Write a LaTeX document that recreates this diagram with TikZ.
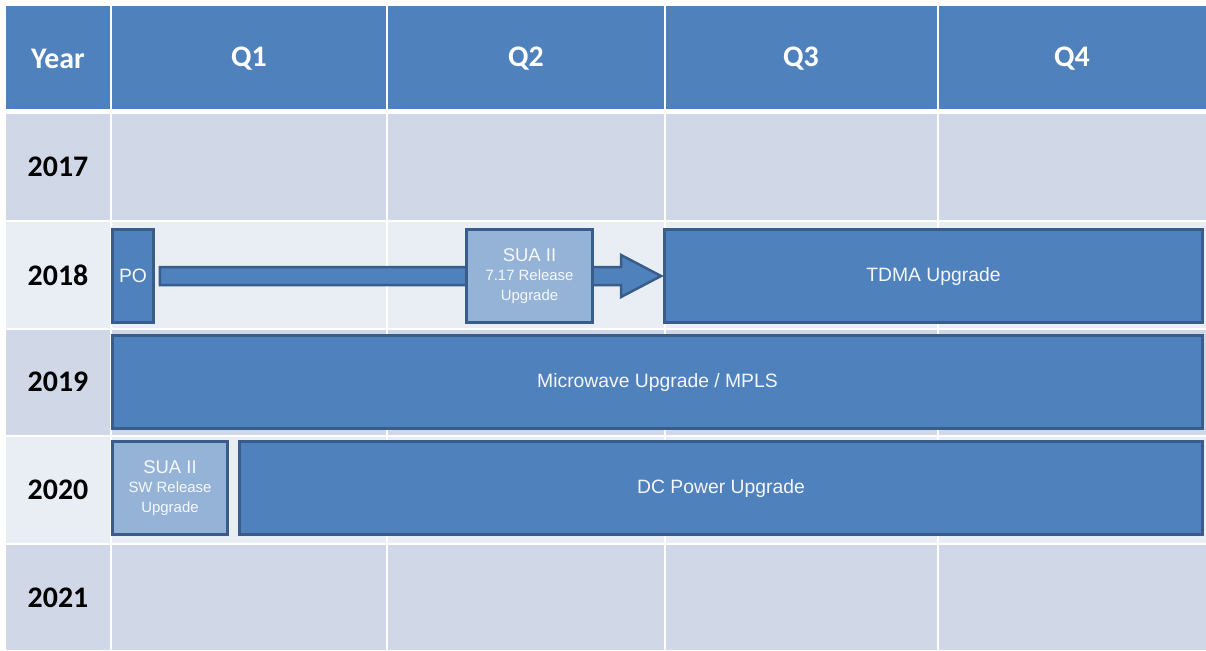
\documentclass[tikz,border=0pt]{standalone}
\usepackage{fontspec}
\setmainfont{Liberation Sans}
\newfontfamily\headfont{Carlito}
\usepackage{tikz}
\usetikzlibrary{calc}
\definecolor{hdrblue}{HTML}{4F81BD}
\definecolor{barline}{HTML}{385D8A}
\definecolor{sualight}{HTML}{95B3D7}
\definecolor{rowdark}{HTML}{D0D8E8}
\definecolor{rowlight}{HTML}{E9EDF4}

\begin{document}
\begin{tikzpicture}[
    x=0.02cm, y=-0.02cm,
    hdr/.style={font=\headfont\bfseries\fontsize{17}{20}\selectfont, text=white},
    yr/.style={font=\headfont\bfseries\fontsize{17}{20}\selectfont, text=black},
    bar/.style={draw=barline, line width=0.06cm, fill=hdrblue, text=white!94!hdrblue, align=center, inner sep=0pt, font=\fontsize{11}{12}\selectfont},
    subbar/.style={bar, fill=sualight, text=white!92!sualight, font=\fontsize{8.5}{11.3}\selectfont},
    fat/.style={draw=barline, line width=0.05cm, fill=hdrblue, line join=miter}
]
    \useasboundingbox[fill=white] (0,0) rectangle (1206,650);

    % grid cells
    \foreach \xa/\xb in {6/110, 112/386, 388/664, 666/937, 939/1206}{
        \fill[hdrblue] (\xa,6) rectangle (\xb,109);
        \foreach \ya/\yb/\c in {114/220/rowdark, 222/328/rowlight, 330/435/rowdark, 437/543/rowlight, 545/650/rowdark}
            \fill[\c] (\xa,\ya) rectangle (\xb,\yb);
    }

    % header and year labels
    \node[hdr] (hyear) at (58,59) {Year};
    \foreach \q/\x in {1/249, 2/526, 3/801, 4/1072}
        \node[hdr] (hq\q) at (\x,59) {Q\q};
    \foreach \yy/\y in {2017/167, 2018/275, 2019/382, 2020/490, 2021/598}
        \node[yr] (y\yy) at (58,\y) {\yy};

    % 2018
    \node[bar, minimum width=0.82cm, minimum height=1.86cm] (po) at (133,276) {PO};
    \node[bar, minimum width=10.76cm, minimum height=1.86cm] (tdma) at (933.5,276) {TDMA Upgrade};
    \draw[fat] ($(po.east)+(5,-9)$) -- ($(tdma.west)+(-42,-9)$) -- ($(tdma.west)+(-42,-21)$)
        -- ($(tdma.west)+(-2,0)$) -- ($(tdma.west)+(-42,21)$) -- ($(tdma.west)+(-42,9)$)
        -- ($(po.east)+(5,9)$) -- cycle;
    \node[subbar, minimum width=2.52cm, minimum height=1.86cm] (sua1) at (529.5,276)
        {{\fontsize{10.5}{11.3}\selectfont SUA II}\\7.17 Release\\Upgrade};

    % 2019
    \node[bar, minimum width=21.8cm, minimum height=1.86cm] (mw) at (657.5,382) {Microwave Upgrade / MPLS};

    % 2020
    \node[subbar, minimum width=2.3cm, minimum height=1.86cm] (sua2) at (170,488)
        {{\fontsize{10.5}{11.3}\selectfont SUA II}\\SW Release\\Upgrade};
    \node[bar, minimum width=19.26cm, minimum height=1.86cm] (dc) at (721,488) {DC Power Upgrade};
\end{tikzpicture}
\end{document}
